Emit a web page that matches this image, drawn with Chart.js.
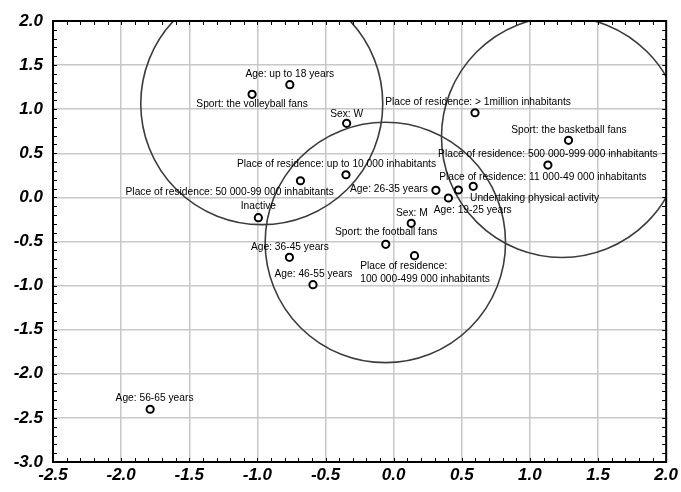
<!DOCTYPE html>
<html>
<head>
<meta charset="utf-8">
<script src="https://cdn.jsdelivr.net/npm/chart.js@4/dist/chart.umd.min.js"></script>
<style>
  body { margin: 0; background: #fff; }
  #wrap { width: 681px; height: 492px; }
</style>
</head>
<body>
<div id="wrap"><canvas id="myChart" width="681" height="492"></canvas></div>
<script>
// categories (point labels)
var categories = [
  "Age: up to 18 years",
  "Sport: the volleyball fans",
  "Sex: W",
  "Place of residence: > 1million inhabitants",
  "Sport: the basketball fans",
  "Place of residence: 500 000-999 000 inhabitants",
  "Place of residence: 11 000-49 000 inhabitants",
  "Undertaking physical activity",
  "Age: 26-35 years",
  "Age: 19-25 years",
  "Place of residence: up to 10 000 inhabitants",
  "Place of residence: 50 000-99 000 inhabitants",
  "Inactive",
  "Sex: M",
  "Sport: the football fans",
  "Place of residence:\n100 000-499 000 inhabitants",
  "Age: 36-45 years",
  "Age: 46-55 years",
  "Age: 56-65 years"
];

var xValues = [-0.762, -1.039, -0.345, 0.597, 1.283, 1.132, 0.584, 0.475, 0.310, 0.402,
               -0.350, -0.684, -0.993, 0.129, -0.058, 0.153, -0.765, -0.592, -1.787];
var yValues = [1.278, 1.169, 0.840, 0.960, 0.647, 0.367, 0.126, 0.084, 0.080, -0.007,
               0.257, 0.189, -0.230, -0.294, -0.532, -0.661, -0.679, -0.990, -2.402];

// cluster circles: centre and radius (radius in x-axis units)
var circleX = [-0.968, -0.061, 1.235];
var circleY = [1.063, -0.511, 0.685];
var circleR = [0.888, 0.882, 0.884];

// axis ticks
var xTicks = [-2.5, -2.0, -1.5, -1.0, -0.5, 0.0, 0.5, 1.0, 1.5, 2.0];
var yTicks = [-3.0, -2.5, -2.0, -1.5, -1.0, -0.5, 0.0, 0.5, 1.0, 1.5, 2.0];

// label placement relative to the point, in pixels [dx, dy, align]
var labelPos = [
  [0, -11], [0, 10], [0, -9.5], [3, -11], [0.5, -11], [0, -11],
  [69.7, -9.6], [76.2, 8.3], [-47, -2], [24.3, 12], [-9.5, -11.4],
  [-70.8, 11.3], [0, -11.7], [0.6, -10.6], [0.5, -12], [-54.3, 10.3, "left"],
  [0.5, -10.6], [0.5, -11], [4.4, -11]
];

var labelFont = "11.5px 'Liberation Sans', Arial, sans-serif";
var labelSqueeze = 0.89; // narrow look of the original lettering

// tick lettering: bold italic
Chart.defaults.font.family = "'Liberation Sans', Arial, sans-serif";
Chart.defaults.font.size = 17;
Chart.defaults.font.weight = "bold";
Chart.defaults.font.style = "italic";
Chart.defaults.color = "#000";

var points = xValues.map(function (x, i) { return { x: x, y: yValues[i] }; });

var decorPlugin = {
  id: "decor",
  beforeDatasetsDraw: function (chart) {
    var ctx = chart.ctx, a = chart.chartArea;
    var xs = chart.scales.x, ys = chart.scales.y;
    ctx.save();
    ctx.beginPath();
    ctx.rect(a.left, a.top, a.right - a.left, a.bottom - a.top);
    ctx.clip();
    ctx.strokeStyle = "#3c3c3c";
    ctx.lineWidth = 1.6;
    var pxPerUnit = xs.getPixelForValue(1) - xs.getPixelForValue(0);
    for (var i = 0; i < circleX.length; i++) {
      ctx.beginPath();
      ctx.arc(xs.getPixelForValue(circleX[i]), ys.getPixelForValue(circleY[i]), circleR[i] * pxPerUnit, 0, Math.PI * 2);
      ctx.stroke();
    }
    ctx.restore();
  },
  afterDatasetsDraw: function (chart) {
    var ctx = chart.ctx, a = chart.chartArea;
    var xs = chart.scales.x, ys = chart.scales.y;
    ctx.save();
    // labels
    ctx.fillStyle = "#000";
    ctx.font = labelFont;
    ctx.textBaseline = "middle";
    var meta = chart.getDatasetMeta(0);
    meta.data.forEach(function (el, i) {
      var p = labelPos[i];
      ctx.textAlign = p[2] || "center";
      var lines = categories[i].split("\n");
      lines.forEach(function (line, j) {
        ctx.save();
        ctx.translate(el.x + p[0], el.y + p[1] + j * 13.3);
        ctx.scale(labelSqueeze, 1);
        ctx.fillText(line, 0, 0);
        ctx.restore();
      });
    });
    // frame
    ctx.strokeStyle = "#000";
    ctx.lineWidth = 2;
    ctx.strokeRect(a.left, a.top, a.right - a.left, a.bottom - a.top);
    // minor ticks every 0.1, pointing inward
    ctx.lineWidth = 1;
    ctx.beginPath();
    for (var k = -25; k <= 20; k++) {
      var px = Math.round(xs.getPixelForValue(k / 10)) + 0.5;
      ctx.moveTo(px, a.bottom); ctx.lineTo(px, a.bottom - 4);
      ctx.moveTo(px, a.top); ctx.lineTo(px, a.top + 4);
    }
    for (var m = -30; m <= 20; m++) {
      var py = Math.round(ys.getPixelForValue(m / 10)) + 0.5;
      ctx.moveTo(a.left, py); ctx.lineTo(a.left + 4, py);
      ctx.moveTo(a.right, py); ctx.lineTo(a.right - 4, py);
    }
    ctx.stroke();
    ctx.restore();
  }
};

var ctx = document.getElementById("myChart").getContext("2d");

var myChart = new Chart(ctx, {
  type: "scatter",
  data: {
    datasets: [{
      data: points,
      pointStyle: "circle",
      pointRadius: 3.6,
      pointBorderWidth: 2,
      pointBorderColor: "#000",
      pointBackgroundColor: "#fff"
    }]
  },
  options: {
    responsive: false,
    animation: false,
    events: [],
    layout: { padding: { top: 21, right: 12, left: 0, bottom: 0 } },
    plugins: { legend: { display: false }, tooltip: { enabled: false } },
    scales: {
      x: {
        type: "linear",
        min: xTicks[0],
        max: xTicks[xTicks.length - 1],
        afterBuildTicks: function (s) { s.ticks = xTicks.map(function (v) { return { value: v }; }); },
        afterFit: function (s) { s.height = 30; },
        ticks: {
          color: "#000",
          padding: 3,
          maxRotation: 0,
          callback: function (v) { return Number(v).toFixed(1); }
        },
        grid: { color: "#c8c8c8", lineWidth: 1.5, drawTicks: false },
        border: { color: "#000", width: 2 }
      },
      y: {
        type: "linear",
        min: yTicks[0],
        max: yTicks[yTicks.length - 1],
        afterBuildTicks: function (s) { s.ticks = yTicks.map(function (v) { return { value: v }; }); },
        afterFit: function (s) { s.width = 53; },
        ticks: {
          color: "#000",
          padding: 10,
          callback: function (v) { return Number(v).toFixed(1); }
        },
        grid: { color: "#c8c8c8", lineWidth: 1.5, drawTicks: false },
        border: { color: "#000", width: 2 }
      }
    }
  },
  plugins: [decorPlugin]
});
</script>
</body>
</html>
